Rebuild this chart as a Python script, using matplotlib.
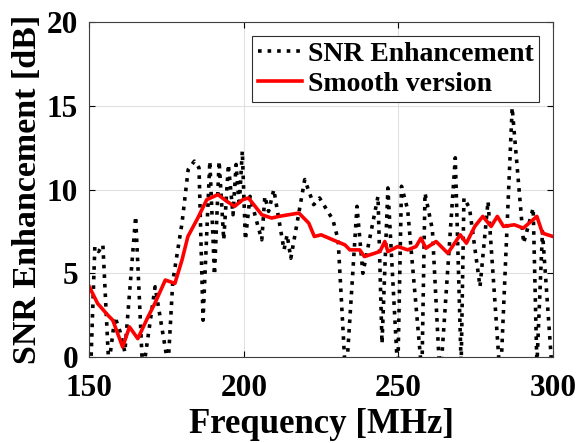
import matplotlib.pyplot as plt
import numpy as np

plt.rcParams['font.family'] = ['Liberation Serif', 'DejaVu Serif']
plt.rcParams['font.weight'] = 'bold'

# raw SNR enhancement (dotted)
f_raw = [150.5, 151.8, 153.0, 154.4, 156.3, 158.3, 160.0, 161.5, 165.0, 167.3,
         171.3, 175.5, 177.0, 180.0, 182.0, 184.0, 185.5, 186.8, 189.0, 190.5,
         192.0, 193.5, 195.0, 196.5, 197.5, 198.5, 199.5, 200.5, 202.0, 204.0,
         205.8, 206.8, 208.0, 209.7, 213.0, 214.0, 215.2, 219.7, 222.6, 224.5,
         228.8, 230.5, 233.0, 236.6, 238.5, 243.4, 244.7, 246.6, 249.8, 251.0,
         253.0, 257.6, 258.6, 261.0, 263.5, 268.4, 270.3, 271.2, 273.0, 276.4,
         279.0, 283.0, 286.8, 290.5, 293.6, 294.8, 296.6, 299.6]
snr_raw = [-0.5, 6.6, 6.3, 6.7, -0.5, 2.4, 1.5, 0.3, 8.4, -1.0,
           4.2, -0.5, 4.5, 8.0, 11.2, 11.7, 11.3, 2.2, 11.7, 4.9,
           11.7, 7.0, 11.5, 8.5, 11.5, 9.0, 12.3, 7.0, 9.6, 8.2,
           7.0, 9.6, 8.7, 10.0, 6.4, 7.3, 5.9, 10.6, 9.1, 9.5,
           8.2, 7.0, -1.5, 9.0, 5.0, 9.6, 0.8, 10.1, -1.0, 10.2,
           8.8, -1.0, 9.8, 7.6, -1.5, 11.9, -0.5, 9.5, 8.9, 4.2,
           9.3, -1.5, 14.9, 6.8, 8.9, -0.5, 7.5, -0.5]

# smoothed curve (red)
f_smooth = [150.0, 152.7, 156.0, 157.6, 160.8, 163.0, 165.7, 169.0, 171.2, 174.6,
            177.7, 180.0, 181.9, 185.1, 188.0, 191.6, 194.5, 197.0, 199.7, 201.5,
            205.8, 209.0, 211.3, 217.8, 221.0, 222.8, 225.0, 228.8, 232.7, 234.3,
            237.5, 239.0, 244.0, 245.6, 246.6, 249.8, 253.0, 255.7, 257.3, 258.9,
            262.2, 266.0, 270.0, 272.0, 274.7, 277.3, 280.0, 282.0, 284.0, 287.5,
            290.4, 294.8, 296.6, 300.0]
snr_smooth = [4.2, 3.2, 2.5, 2.2, 0.6, 1.8, 1.1, 2.4, 3.2, 4.6,
              4.4, 5.8, 7.2, 8.3, 9.4, 9.7, 9.3, 9.0, 9.4, 9.5,
              8.5, 8.3, 8.4, 8.6, 8.0, 7.2, 7.3, 7.0, 6.7, 6.4,
              6.4, 6.0, 6.3, 6.9, 6.3, 6.6, 6.4, 6.6, 7.1, 6.5,
              6.9, 6.2, 7.3, 6.8, 7.8, 8.4, 7.8, 8.4, 7.8, 7.9,
              7.7, 8.4, 7.4, 7.2]

fig = plt.figure(figsize=(5.76, 4.43), dpi=100)
ax = fig.add_axes([0.155, 0.194, 0.805, 0.756])

ax.plot(f_raw, snr_raw, ':', color='black', lw=2.6, label='SNR Enhancement')
ax.plot(f_smooth, snr_smooth, '-', color='red', lw=2.6, label='Smooth version')

ax.set_xlim(150, 300)
ax.set_ylim(0, 20)
ax.set_xticks([150, 200, 250, 300])
ax.set_yticks([0, 5, 10, 15, 20])
ax.grid(True, color='#e0e0e0', lw=0.8)
ax.set_axisbelow(True)
ax.tick_params(direction='in', labelsize=22.5, length=4, top=True, right=True)
ax.tick_params(axis='x', pad=12)
ax.tick_params(axis='y', pad=8)
for s in ax.spines.values():
    s.set_color('#404040')
    s.set_linewidth(0.8)

ax.set_xlabel('Frequency [MHz]', fontsize=25, fontweight='bold', labelpad=4)
ax.set_ylabel('SNR Enhancement [dB]', fontsize=24.5, fontweight='bold', labelpad=3)

leg = ax.legend(loc='upper right', fontsize=20, handlelength=1.6, handletextpad=0.2,
                borderpad=0.2, labelspacing=0.15, fancybox=False, framealpha=1,
                borderaxespad=0.5)
leg.get_frame().set_edgecolor('#303030')
leg.get_frame().set_linewidth(0.8)

fig.savefig('out.png', dpi=100)
